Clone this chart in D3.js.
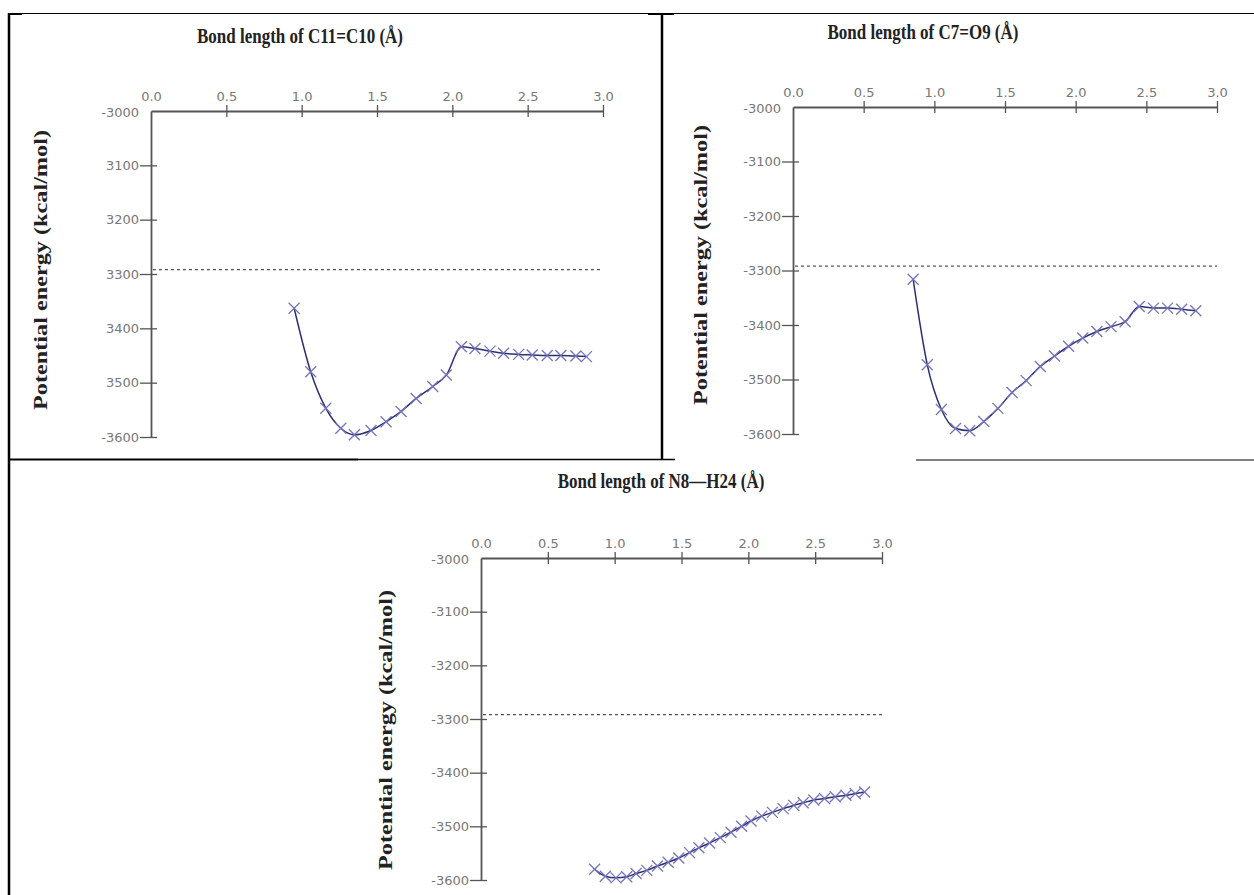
<!DOCTYPE html>
<html><head><meta charset="utf-8">
<script src="https://cdn.jsdelivr.net/npm/d3@7"></script>
<style>html,body{margin:0;padding:0;background:#fff;}svg{display:block;}</style>
</head><body>
<svg id="chart" width="1254" height="895"></svg>
<script>
// ---------- DATA ----------
const xTicks = [0, 0.5, 1.0, 1.5, 2.0, 2.5, 3.0];
const xTickLabels = ["0.0", "0.5", "1.0", "1.5", "2.0", "2.5", "3.0"];
const yTicks = [-3000, -3100, -3200, -3300, -3400, -3500, -3600];
const yTickLabelsA = ["-3000", "3100", "3200", "3300", "3400", "3500", "-3600"];
const yTickLabelsB = ["-3000", "-3100", "-3200", "-3300", "-3400", "-3500", "-3600"];
const yTickLabelsC = ["-3000", "-3100", "-3200", "-3300", "-3400", "-3500", "-3600"];
const referenceLevel = -3292;

const titles = ["Bond length of C11=C10 (Å)", "Bond length of C7=O9 (Å)", "Bond length of N8\u2014H24 (Å)"];
const yTitle = "Potential energy (kcal/mol)";

const bondC11C10 = [0.95, 1.06, 1.16, 1.26, 1.35, 1.46, 1.56, 1.66, 1.76, 1.87, 1.96, 2.06, 2.15, 2.25, 2.34, 2.44, 2.53, 2.63, 2.72, 2.82, 2.89];
const energyC11C10 = [-3363, -3480, -3547, -3584, -3596, -3588, -3572, -3553, -3529, -3507, -3486, -3434, -3437, -3442, -3446, -3448, -3449, -3450, -3450, -3451, -3452];

const bondC7O9 = [0.85, 0.95, 1.05, 1.15, 1.25, 1.35, 1.45, 1.55, 1.65, 1.75, 1.85, 1.95, 2.05, 2.15, 2.25, 2.35, 2.45, 2.55, 2.65, 2.75, 2.85];
const energyC7O9 = [-3316, -3473, -3555, -3590, -3594, -3577, -3553, -3524, -3502, -3476, -3457, -3439, -3424, -3412, -3403, -3394, -3366, -3369, -3369, -3371, -3374];

const bondN8H24 = [0.85, 0.93, 1.01, 1.09, 1.16, 1.24, 1.32, 1.40, 1.48, 1.56, 1.63, 1.71, 1.79, 1.87, 1.95, 2.02, 2.10, 2.18, 2.26, 2.34, 2.41, 2.49, 2.57, 2.65, 2.73, 2.80, 2.87];
const energyN8H24 = [-3580, -3593, -3596, -3594, -3588, -3582, -3574, -3567, -3559, -3549, -3540, -3531, -3521, -3511, -3500, -3490, -3481, -3474, -3467, -3461, -3456, -3451, -3448, -3445, -3442, -3439, -3436];

// ---------- LAYOUT ----------
const svg = d3.select("#chart");
const panels = [
  {xr:[151,603], yr:[111,437], title:titles[0], tx:300, ty:43, ylx:40, yly:270, ylab:yTickLabelsA, xs:bondC11C10, es:energyC11C10},
  {xr:[793,1217], yr:[107,434], title:titles[1], tx:923, ty:39, ylx:700, yly:265, ylab:yTickLabelsB, xs:bondC7O9, es:energyC7O9},
  {xr:[481,882], yr:[558,880], title:titles[2], tx:661, ty:488, ylx:385, yly:730, ylab:yTickLabelsC, xs:bondN8H24, es:energyN8H24}
];

const axisColor = "#555";
const lineColor = "#2e2e72";
const markColor = "#7474bc";
const serif = "Liberation Serif, Times New Roman, serif";
const sans = "DejaVu Sans, Verdana, sans-serif";

panels.forEach(p => {
  const x = d3.scaleLinear().domain([0, 3]).range(p.xr);
  const y = d3.scaleLinear().domain([-3000, -3600]).range(p.yr);
  const g = svg.append("g");

  // title
  g.append("text").attr("transform", `translate(${p.tx},${p.ty}) scale(1,1.2)`).attr("text-anchor", "middle")
    .attr("font-family", serif).attr("font-weight", "bold")
    .attr("font-size", 17).attr("fill", "#222").text(p.title);
  // y title
  g.append("text").attr("transform", `translate(${p.ylx},${p.yly}) rotate(-90)`)
    .attr("text-anchor", "middle").attr("dy", "0.35em").attr("font-family", serif)
    .attr("font-weight", "bold").attr("font-size", 19).attr("fill", "#222")
    .attr("textLength", 280).attr("lengthAdjust", "spacingAndGlyphs").text(yTitle);

  // x axis at top
  const xAxis = d3.axisTop(x).tickValues(xTicks).tickSize(0).tickFormat((d, i) => xTickLabels[i]);
  const xa = g.append("g").attr("transform", `translate(0,${p.yr[0]})`).call(xAxis);
  xa.select(".domain").attr("stroke", axisColor).attr("stroke-width", 1.8);
  xa.selectAll(".tick text").attr("y", -10).attr("dy", 0).attr("font-family", sans)
    .attr("font-size", 13).attr("fill", "#777");
  xa.selectAll(".tick").filter(d => d > 0).append("line").attr("y1", -6).attr("y2", 6)
    .attr("stroke", axisColor).attr("stroke-width", 1.3);

  // y axis
  const yAxis = d3.axisLeft(y).tickValues(yTicks).tickSize(0).tickFormat((d, i) => p.ylab[i]);
  const ya = g.append("g").attr("transform", `translate(${p.xr[0]},0)`).call(yAxis);
  ya.select(".domain").attr("stroke", axisColor).attr("stroke-width", 1.8);
  ya.selectAll(".tick text").attr("x", -12).attr("font-family", sans)
    .attr("font-size", 13).attr("fill", "#777");
  ya.selectAll(".tick").filter(d => d < -3000).append("line").attr("x1", -11).attr("x2", 6)
    .attr("stroke", axisColor).attr("stroke-width", 1.3);
  ya.selectAll(".tick").filter(d => d === -3000).select("text").attr("dy", "0.4em");

  // dashed reference
  g.append("line").attr("x1", x(0) + 2).attr("x2", x(3)).attr("y1", y(referenceLevel)).attr("y2", y(referenceLevel))
    .attr("stroke", "#555").attr("stroke-width", 1.2).attr("stroke-dasharray", "3,3");

  // curve
  const pts = p.xs.map((v, i) => [v, p.es[i]]);
  g.append("path").datum(pts).attr("fill", "none").attr("stroke", lineColor).attr("stroke-width", 1.5)
    .attr("d", d3.line().x(d => x(d[0])).y(d => y(d[1])).curve(d3.curveMonotoneX));
  // markers
  const s = 5.5;
  g.selectAll(null).data(pts).enter().append("path")
    .attr("d", d => { const cx = x(d[0]), cy = y(d[1]);
      return `M${cx-s},${cy-s}L${cx+s},${cy+s}M${cx-s},${cy+s}L${cx+s},${cy-s}`; })
    .attr("stroke", markColor).attr("stroke-width", 1.3).attr("fill", "none");
});

// ---------- TABLE BORDERS ----------
const b = svg.append("g").attr("stroke", "#000");
b.append("line").attr("x1", 8).attr("x2", 1254).attr("y1", 13.5).attr("y2", 13.5).attr("stroke-width", 1);
b.append("line").attr("x1", 8).attr("x2", 22).attr("y1", 14).attr("y2", 14).attr("stroke-width", 2);
b.append("line").attr("x1", 648).attr("x2", 674).attr("y1", 14).attr("y2", 14).attr("stroke-width", 2);
b.append("line").attr("x1", 9).attr("x2", 9).attr("y1", 13).attr("y2", 895).attr("stroke-width", 2.5);
b.append("line").attr("x1", 662).attr("x2", 662).attr("y1", 13).attr("y2", 460).attr("stroke-width", 2.5);
b.append("line").attr("x1", 8).attr("x2", 358).attr("y1", 459.5).attr("y2", 459.5).attr("stroke-width", 2);
b.append("line").attr("x1", 358).attr("x2", 675).attr("y1", 459.5).attr("y2", 459.5).attr("stroke-width", 1.5);
b.append("line").attr("x1", 916).attr("x2", 1254).attr("y1", 460).attr("y2", 460).attr("stroke-width", 1.2);
</script>
</body></html>
